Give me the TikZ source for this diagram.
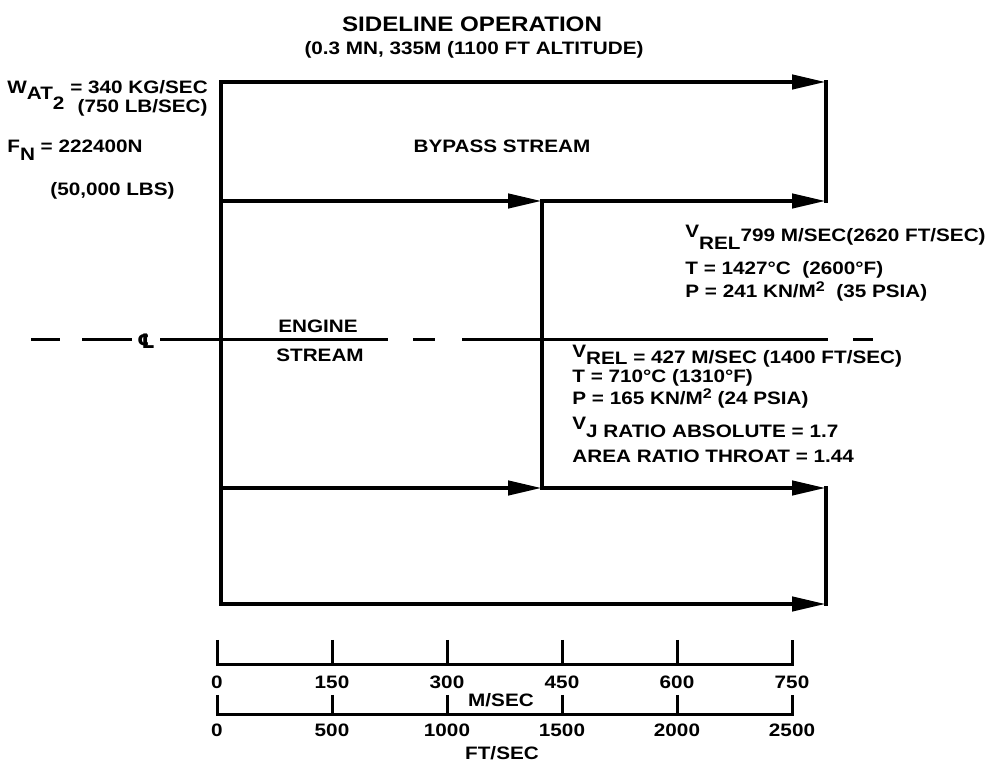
\documentclass[tikz,border=0pt]{standalone}
\usepackage{fontspec}
\setmainfont{Liberation Sans}[FakeStretch=1.15]
\newfontfamily\symfont{DejaVu Sans}
\usetikzlibrary{arrows.meta}

\begin{document}
\begin{tikzpicture}[x=0.5pt, y=-0.5pt,
    wall/.style={line width=2.2pt, line cap=rect},
    flow/.style={line width=2.2pt, -{Triangle[length=17pt,width=7pt]}},
    cline/.style={line width=1.5pt},
    axis/.style={line width=1.5pt, line join=miter},
    lbl/.style={inner sep=0pt, font=\fontsize{9}{10}\selectfont\bfseries},
    ttl/.style={inner sep=0pt, font=\fontsize{10.5}{12}\selectfont\bfseries}
  ]
  \useasboundingbox (0,0) rectangle (986,763);

  % duct corners
  \coordinate (a1) at (221,82);
  \coordinate (a2) at (826,82);
  \coordinate (b1) at (221,201);
  \coordinate (b2) at (542,201);
  \coordinate (b3) at (826,201);
  \coordinate (c1) at (221,488);
  \coordinate (c2) at (542,488);
  \coordinate (c3) at (826,488);
  \coordinate (d1) at (221,604);
  \coordinate (d2) at (826,604);

  \draw[wall] (a1) -- (d1);
  \draw[wall] (a2) -- (b3);
  \draw[wall] (b2) -- (c2);
  \draw[wall] (c3) -- (d2);
  \draw[flow] (a1) -- (a2);
  \draw[flow] (b1) -- (b2);
  \draw[flow] (b2) -- (b3);
  \draw[flow] (c1) -- (c2);
  \draw[flow] (c2) -- (c3);
  \draw[flow] (d1) -- (d2);

  % centre line
  \foreach \a/\b in {31/60, 82/132, 160/388, 413/435, 462/828, 853/873}
    \draw[cline] (\a,340) -- (\b,340);
  \node[lbl] (cl) at (146,341) {\symfont\fontsize{10}{10}\selectfont ℄};

  % titles
  \node[ttl, anchor=base] (title) at (472,32) {SIDELINE OPERATION};
  \node[lbl, anchor=base] (cond) at (474,55) {(0.3 MN, 335M (1100 FT ALTITUDE)};

  % inlet data
  \node[lbl, anchor=base west] (wflow) at (7,94) {W\raisebox{-3pt}{AT\raisebox{-5pt}{2}} = 340 KG/SEC};
  \node[lbl, anchor=base east] (wflowlb) at (208,113) {(750 LB/SEC)};
  \node[lbl, anchor=base west] (thrust) at (7,153) {F\raisebox{-4pt}{N} = 222400N};
  \node[lbl, anchor=base west] (thrustlb) at (50,196) {(50,000 LBS)};

  % stream names
  \node[lbl, anchor=base] (bypass) at (502,153) {BYPASS STREAM};
  \node[lbl, anchor=base] (engine1) at (318,333) {ENGINE};
  \node[lbl, anchor=base] (engine2) at (320,362) {STREAM};

  % bypass exit data
  \node[lbl, anchor=base west] (bv) at (685,242) {\raisebox{2pt}{V}\raisebox{-4pt}{REL}799 M/SEC(2620 FT/SEC)};
  \node[lbl, anchor=base west] (bt) at (685,275) {T = 1427°C\ \ (2600°F)};
  \node[lbl, anchor=base west] (bp) at (685,298) {P =\ 241 KN/M\raisebox{3pt}{\fontsize{7}{8}\selectfont 2}\ \ (35 PSIA)};

  % engine exit data
  \node[lbl, anchor=base west] (ev) at (572,364) {\raisebox{3pt}{V}\raisebox{-0.5pt}{REL} = 427 M/SEC (1400 FT/SEC)};
  \node[lbl, anchor=base west] (et) at (572,383) {T = 710°C (1310°F)};
  \node[lbl, anchor=base west] (ep) at (572,405) {P = 165 KN/M\raisebox{3pt}{\fontsize{7}{8}\selectfont 2}\ (24 PSIA)};
  \node[lbl, anchor=base west] (evj) at (572,438) {\raisebox{4pt}{V}J RATIO ABSOLUTE = 1.7};
  \node[lbl, anchor=base west] (earea) at (572,463) {AREA RATIO THROAT = 1.44};

  % velocity scales
  \draw[axis] (217,640) -- (217,665) -- (792,665) -- (792,640);
  \foreach \i in {1,...,4}
    \draw[axis] (217+115*\i,640) -- (217+115*\i,665);
  \foreach \v [count=\i from 0] in {0,150,300,450,600,750}
    \node[lbl, anchor=base] (ms\i) at (217+115*\i,689) {\v};
  \node[lbl, anchor=base] (msunit) at (501,707) {M/SEC};

  \draw[axis] (217,695) -- (217,715) -- (792,715) -- (792,695);
  \foreach \i in {1,...,4}
    \draw[axis] (217+115*\i,695) -- (217+115*\i,715);
  \foreach \v [count=\i from 0] in {0,500,1000,1500,2000,2500}
    \node[lbl, anchor=base] (fs\i) at (217+115*\i,737) {\v};
  \node[lbl, anchor=base] (fsunit) at (502,760) {FT/SEC};
\end{tikzpicture}
\end{document}
